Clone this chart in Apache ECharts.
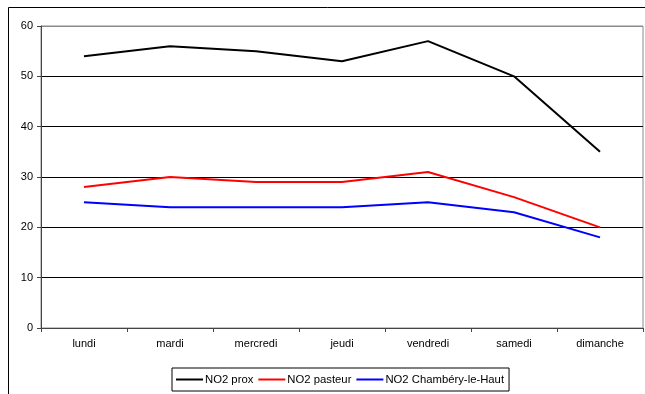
<!DOCTYPE html>
<html><head><meta charset="utf-8">
<script src="https://cdn.jsdelivr.net/npm/echarts@6/dist/echarts.min.js"></script>
<style>html,body{margin:0;padding:0;background:#fff;}#c{width:645px;height:394px;}</style>
</head><body><div id="c"></div>
<script>
const categories = ['lundi','mardi','mercredi','jeudi','vendredi','samedi','dimanche'];
const seriesNames = ['NO2 prox','NO2 pasteur','NO2 Chambéry-le-Haut'];
const prox = [54, 56, 55, 53, 57, 50, 35];
const pasteur = [28, 30, 29, 29, 31, 26, 20];
const chambery = [25, 24, 24, 24, 25, 23, 18];
const yTicks = [0, 10, 20, 30, 40, 50, 60];
const colors = ['#000000', '#ff0000', '#0000ff'];

const chart = echarts.init(document.getElementById('c'), null, {renderer: 'canvas'});
const font = 'Liberation Sans, Arial, sans-serif';
function mk(name, data, color) {
  return {name, type: 'line', data, symbol: 'none', lineStyle: {color, width: 2}, itemStyle: {color}, animation: false};
}
chart.setOption({
  animation: false,
  textStyle: {fontFamily: font},
  graphic: [{type: 'rect', left: 6, top: 5, shape: {x: 0, y: 0, width: 700, height: 400}, style: {fill: 'none', stroke: '#000', lineWidth: 1}, silent: true, z: -1}],
  grid: {left: 41, right: 2, top: 26, bottom: 66, show: true, borderColor: '#8a8a8a', borderWidth: 1},
  xAxis: {type: 'category', data: categories, boundaryGap: true,
    axisLine: {lineStyle: {color: '#444', width: 1}},
    axisTick: {show: true, inside: false, length: 4, lineStyle: {color: '#444'}},
    axisLabel: {color: '#000', fontSize: 11, margin: 10, fontFamily: font},
    splitLine: {show: false}},
  yAxis: {type: 'value', min: yTicks[0], max: yTicks[yTicks.length - 1], interval: 10,
    axisLine: {show: true, lineStyle: {color: '#444', width: 1}},
    axisTick: {show: true, length: 4, lineStyle: {color: '#444'}},
    axisLabel: {color: '#000', fontSize: 11, margin: 8, fontFamily: font},
    splitLine: {show: true, lineStyle: {color: ['#000','#000','#000','#000','#000','#000','#8a8a8a'], width: 1}}},
  legend: {left: 172, top: 368, data: seriesNames, icon: 'rect', itemWidth: 27, itemHeight: 2, itemGap: 5,
    borderColor: '#000', borderWidth: 1, padding: [6, 5, 6, 4],
    textStyle: {color: '#000', fontSize: 11.3, fontFamily: font, padding: [0, 0, 0, -3]}},
  series: [mk(seriesNames[0], prox, colors[0]), mk(seriesNames[1], pasteur, colors[1]), mk(seriesNames[2], chambery, colors[2])]
});
</script></body></html>
